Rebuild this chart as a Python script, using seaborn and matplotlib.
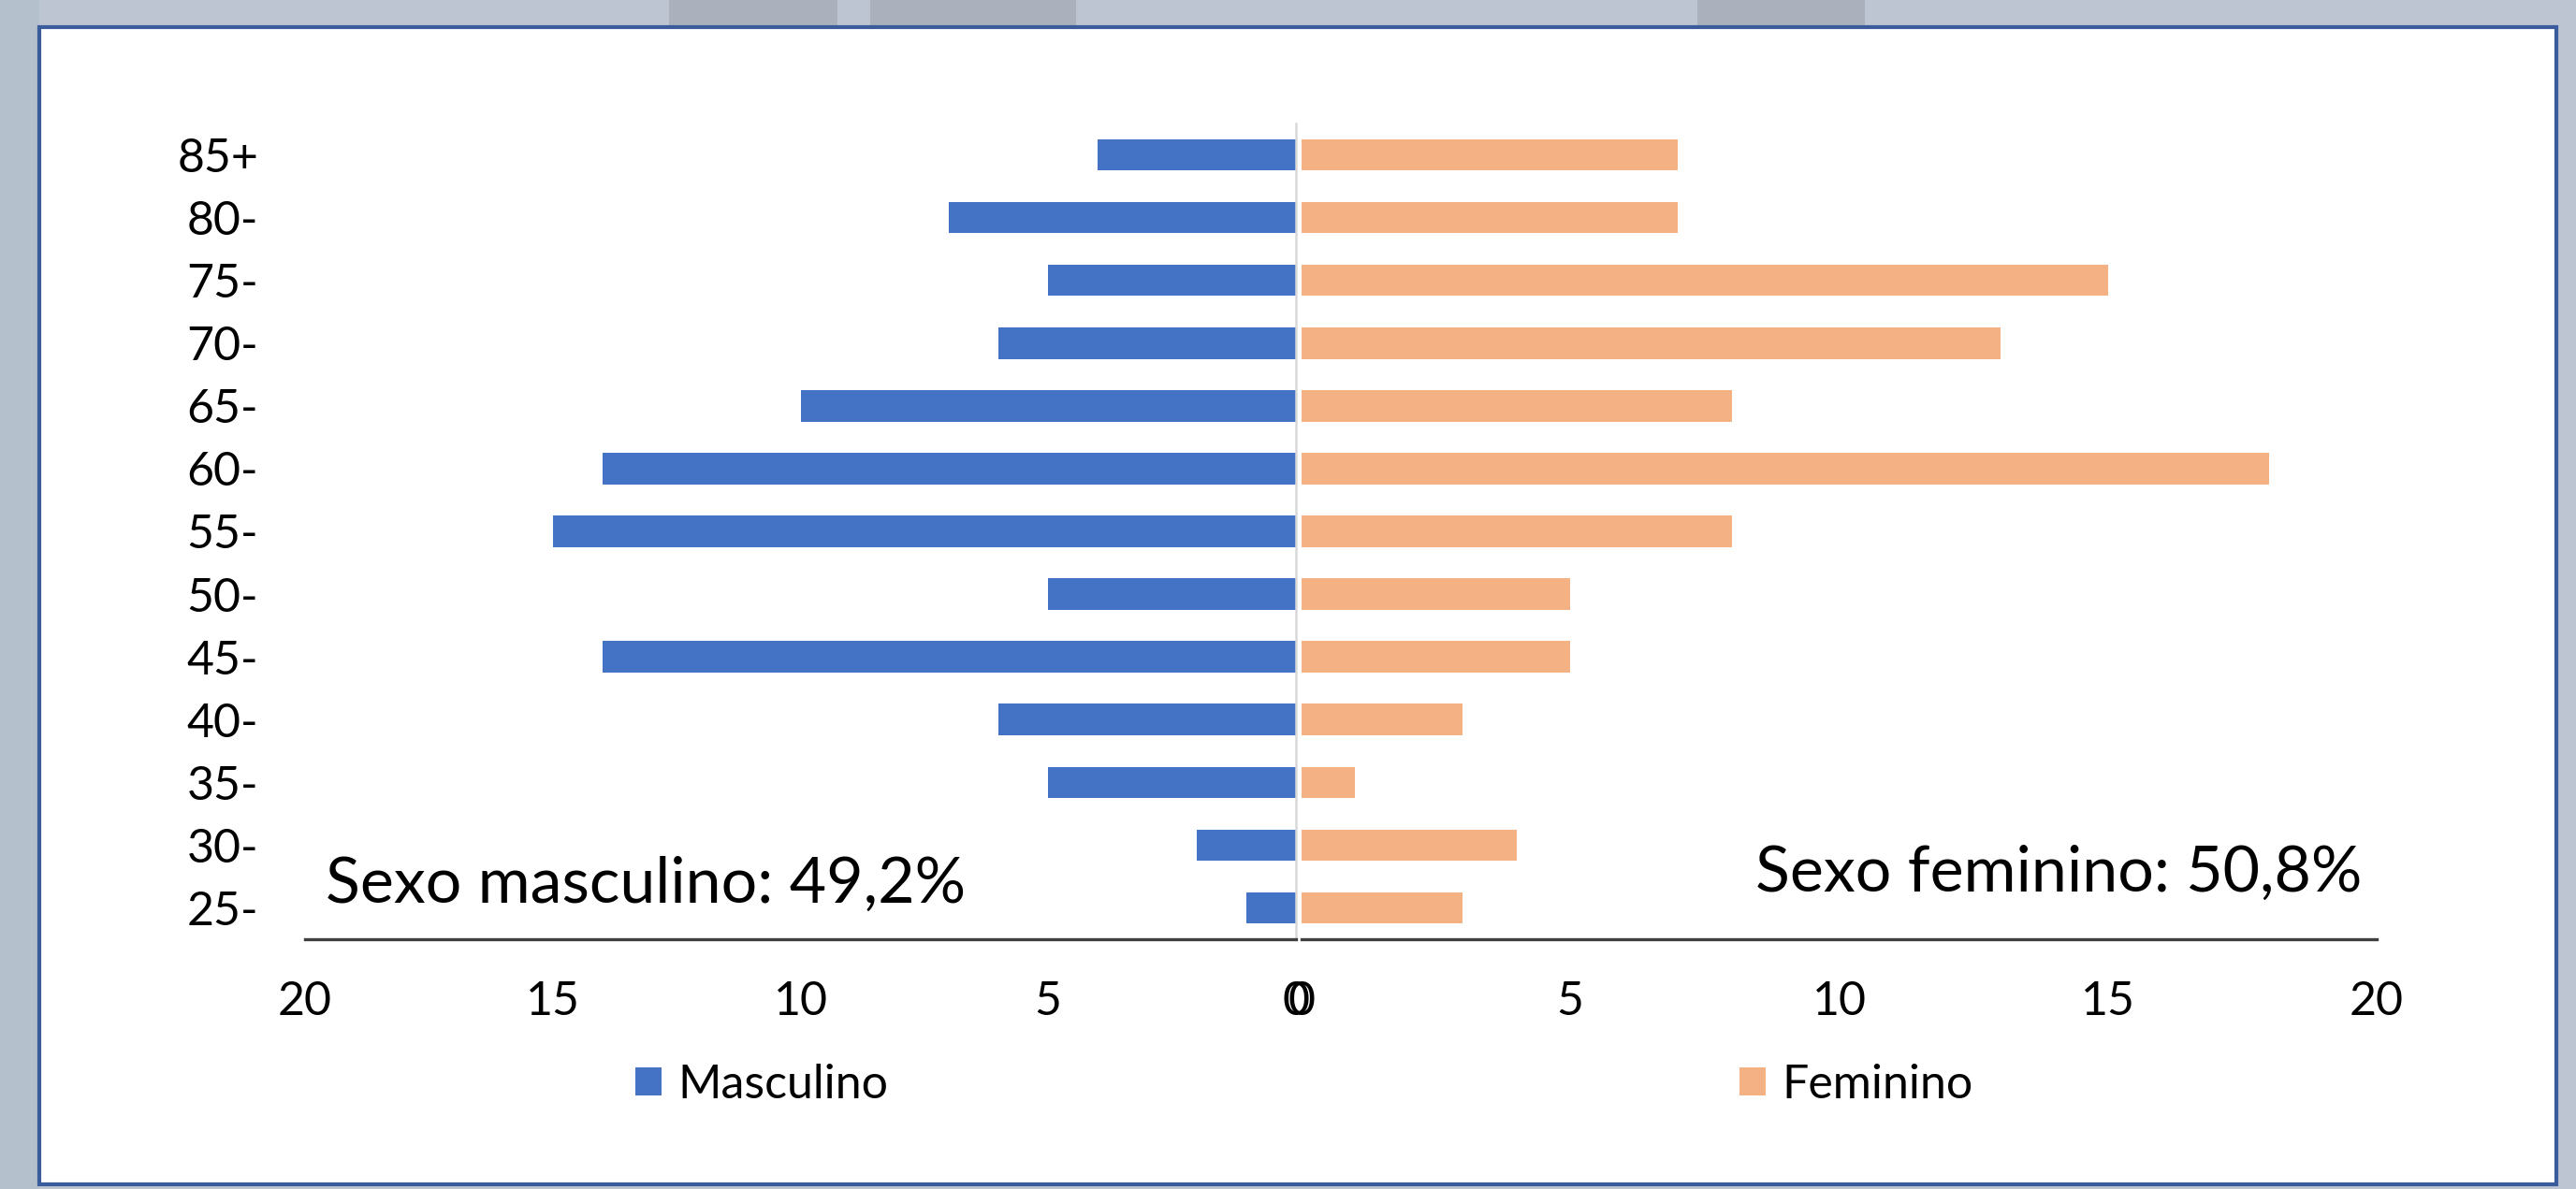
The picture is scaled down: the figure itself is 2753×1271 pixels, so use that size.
import matplotlib
matplotlib.use("Agg")
import matplotlib.pyplot as plt
from matplotlib.patches import Rectangle, Patch
import seaborn as sns
import pandas as pd

# age groups, top to bottom as in the chart
age_groups = ['85+', '80-', '75-', '70-', '65-', '60-', '55-', '50-', '45-', '40-', '35-', '30-', '25-']
masculino = [4, 7, 5, 6, 10, 14, 15, 5, 14, 6, 5, 2, 1]
feminino = [7, 7, 15, 13, 8, 18, 8, 5, 5, 3, 1, 4, 3]
x_ticks = [0, 5, 10, 15, 20]
label_masc = 'Sexo masculino: 49,2%'
label_fem = 'Sexo feminino: 50,8%'

BLUE = '#4472C4'
ORANGE = '#F4B183'

sns.set_theme(style='white')
plt.rcParams['font.family'] = ['Lato', 'DejaVu Sans']
plt.rcParams['text.color'] = 'black'
plt.rcParams['xtick.color'] = 'black'
plt.rcParams['ytick.color'] = 'black'

df = pd.DataFrame({'idade': age_groups, 'Masculino': masculino, 'Feminino': feminino})

W, H, DPI = 2753, 1271, 200
fig = plt.figure(figsize=(W / DPI, H / DPI), dpi=DPI)
fig.patch.set_facecolor('#bdc4d2')

# slide background bits (only visible around the panel)
for x0, x1, c in [(715, 895, '#aab0bc'), (930, 1150, '#aab0bc'), (1814, 1993, '#aab0bc')]:
    fig.patches.append(Rectangle((x0 / W, 1 - 29 / H), (x1 - x0) / W, 29 / H, transform=fig.transFigure,
                                 facecolor=c, edgecolor='none', zorder=0))
fig.patches.append(Rectangle((0, 0), 42 / W, 1, transform=fig.transFigure,
                             facecolor='#b4c0cc', edgecolor='none', zorder=0))

# white panel with blue border
fig.patches.append(Rectangle((42 / W, 1 - 1266 / H), (2732 - 42) / W, (1266 - 29) / H,
                             transform=fig.transFigure, facecolor='white',
                             edgecolor='#3a5b9c', linewidth=1.5, zorder=1))

ax_top, ax_bot = 132, 1004
axL = fig.add_axes([326 / W, 1 - ax_bot / H, (1385 - 326) / W, (ax_bot - ax_top) / H])
axR = fig.add_axes([1391 / W, 1 - ax_bot / H, (2540 - 1391) / W, (ax_bot - ax_top) / H])

sns.barplot(data=df, x='Masculino', y='idade', order=age_groups, color=BLUE,
            width=0.5, linewidth=0, saturation=1, ax=axL)
sns.barplot(data=df, x='Feminino', y='idade', order=age_groups, color=ORANGE,
            width=0.5, linewidth=0, saturation=1, ax=axR)

for ax in (axL, axR):
    ax.set_zorder(2)
    ax.set_facecolor('none')
    ax.set_ylim(len(age_groups) - 0.5, -0.5)
    ax.set_xticks(x_ticks)
    ax.set_xlabel('')
    ax.set_ylabel('')
    ax.tick_params(axis='x', length=0, pad=16, labelsize=18)
    ax.tick_params(axis='y', length=0, pad=18, labelsize=18)
    for s in ('top', 'left', 'right'):
        ax.spines[s].set_visible(False)
    ax.spines['bottom'].set_color('#404040')
    ax.spines['bottom'].set_linewidth(1.2)

axL.set_xlim(20, 0)
axR.set_xlim(0, 20)
axR.set_yticks([])

# light grey centre line
axL.spines['right'].set_visible(True)
axL.spines['right'].set_color('#d9d9d9')
axL.spines['right'].set_linewidth(0.9)

# share annotations
fig.text(348 / W, 1 - 965 / H, label_masc, fontsize=24.5, ha='left', va='baseline', zorder=5)
fig.text(2524 / W, 1 - 953 / H, label_fem, fontsize=24.5, ha='right', va='baseline', zorder=5)

# legends under each half
for x0, name, col in [(679, 'Masculino', BLUE), (1859, 'Feminino', ORANGE)]:
    leg = fig.legend(handles=[Patch(facecolor=col, edgecolor='none', label=name)],
                     loc='center left', bbox_to_anchor=(x0 / W, 1 - 1160 / H),
                     frameon=False, fontsize=18, borderpad=0, borderaxespad=0,
                     handlelength=0.55, handleheight=0.55, handletextpad=0.35)
    leg.set_zorder(5)

fig.savefig('out.png', dpi=DPI, facecolor=fig.get_facecolor())
